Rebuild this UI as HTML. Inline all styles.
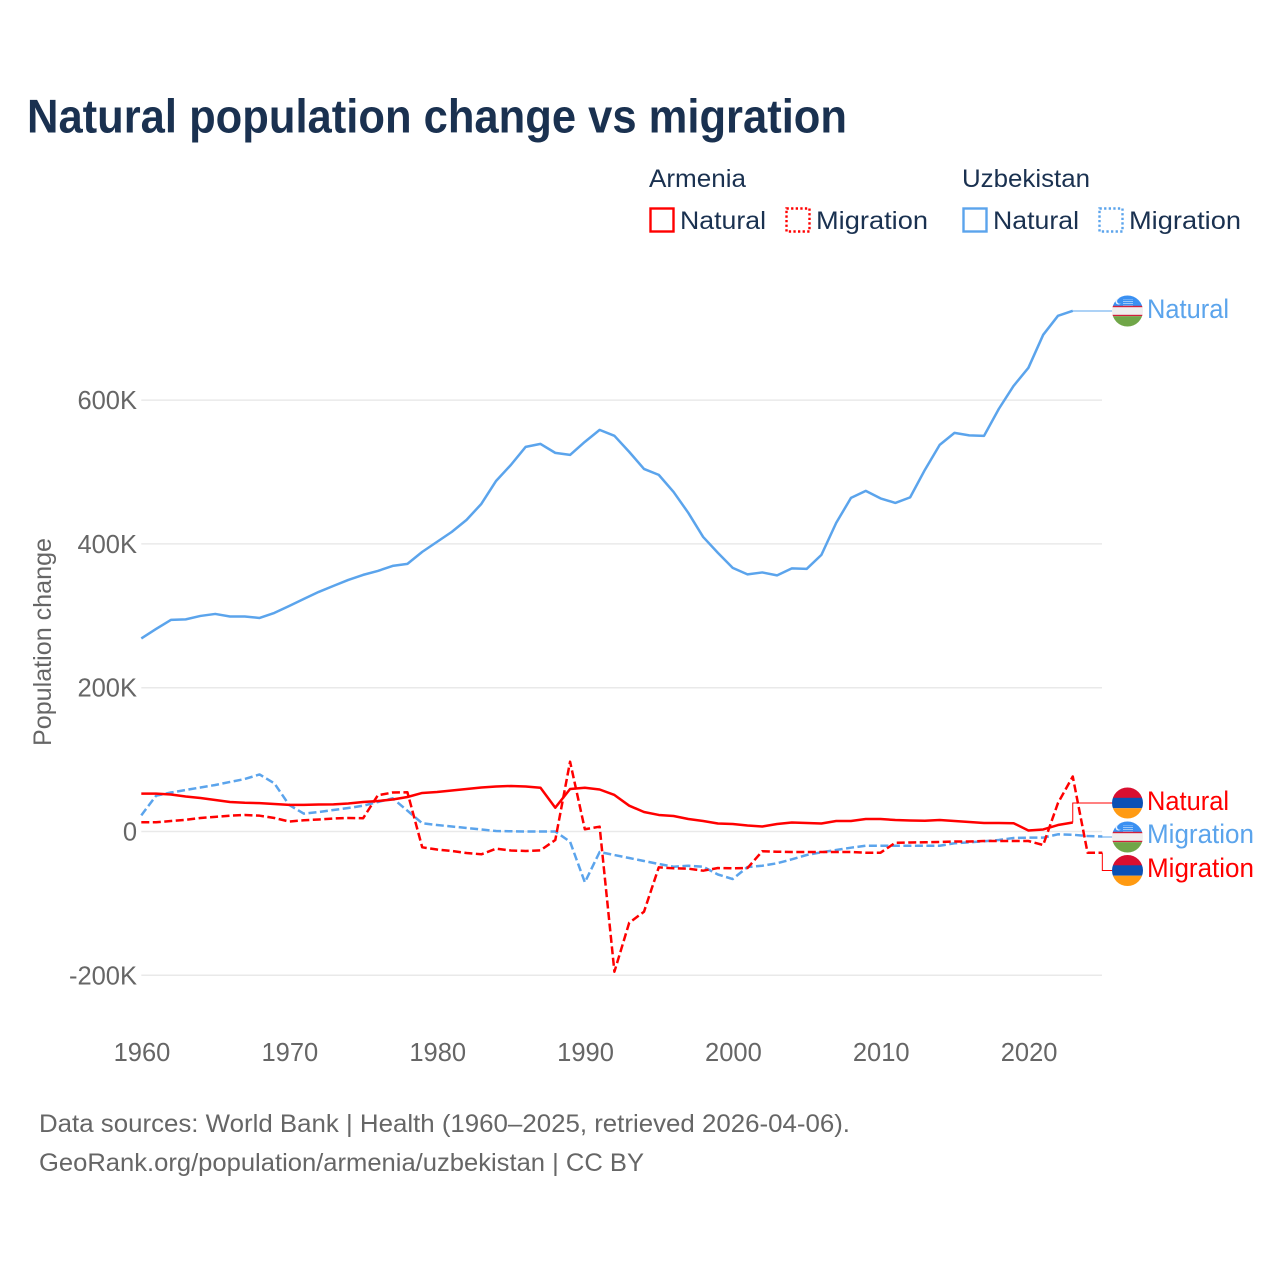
<!DOCTYPE html>
<html lang="en">
<head>
<meta charset="utf-8">
<title>Natural population change vs migration</title>
<style>
html,body{margin:0;padding:0;background:#fff;width:1280px;height:1280px;overflow:hidden}
svg{display:block}
text{font-family:"Liberation Sans",sans-serif}
</style>
</head>
<body>
<svg id="chart" xmlns="http://www.w3.org/2000/svg" width="1280" height="1280" viewBox="0 0 1280 1280">
  <rect width="1280" height="1280" fill="#fff"/>
  <text x="27" y="132.5" font-size="47" font-weight="700" fill="#1a3150" textLength="820" lengthAdjust="spacingAndGlyphs">Natural population change vs migration</text>

  <g font-size="25" fill="#1a3150">
    <text x="649" y="187" textLength="97" lengthAdjust="spacingAndGlyphs">Armenia</text>
    <text x="962" y="187" textLength="128" lengthAdjust="spacingAndGlyphs">Uzbekistan</text>
    <rect x="650.5" y="208.5" width="23" height="23" fill="none" stroke="#ff0000" stroke-width="2.4"/>
    <text x="680" y="229" textLength="86" lengthAdjust="spacingAndGlyphs">Natural</text>
    <rect x="786.5" y="208.5" width="23" height="23" fill="none" stroke="#ff0000" stroke-width="2.4" stroke-dasharray="2.3 2.3"/>
    <text x="816" y="229" textLength="112" lengthAdjust="spacingAndGlyphs">Migration</text>
    <rect x="963.5" y="208.5" width="23" height="23" fill="none" stroke="#5ba4ec" stroke-width="2.4"/>
    <text x="993" y="229" textLength="86" lengthAdjust="spacingAndGlyphs">Natural</text>
    <rect x="1099.5" y="208.5" width="23" height="23" fill="none" stroke="#5ba4ec" stroke-width="2.4" stroke-dasharray="2.3 2.3"/>
    <text x="1129" y="229" textLength="112" lengthAdjust="spacingAndGlyphs">Migration</text>
  </g>

  <g id="grid"></g>
  <g id="yticks"></g>
  <g id="xticks"></g>
  <text transform="translate(51,642) rotate(-90)" text-anchor="middle" font-size="25" fill="#666" textLength="208" lengthAdjust="spacingAndGlyphs">Population change</text>

  <g id="connectors"></g>
  <g id="series"></g>

  <defs>
    <clipPath id="clip-flag"><circle cx="0" cy="0" r="15.5"/></clipPath>
    <pattern id="uz-stars" width="2" height="2" patternUnits="userSpaceOnUse">
      <rect width="1" height="1" fill="#ffffff"/>
    </pattern>
    <g id="flag-am">
      <g clip-path="url(#clip-flag)">
        <rect x="-16" y="-16" width="32" height="11" fill="#d90f30"/>
        <rect x="-16" y="-5.2" width="32" height="10.4" fill="#0a50b4"/>
        <rect x="-16" y="5.2" width="32" height="11" fill="#ff9a12"/>
      </g>
    </g>
    <g id="flag-uz">
      <g clip-path="url(#clip-flag)">
        <rect x="-16" y="-16" width="32" height="11" fill="#3a90f2"/>
        <rect x="-16" y="-5" width="32" height="10" fill="#f0eeee"/>
        <rect x="-16" y="-5.2" width="32" height="1.4" fill="#d0203c"/>
        <rect x="-16" y="3.8" width="32" height="1.4" fill="#d0203c"/>
        <rect x="-16" y="5.2" width="32" height="11" fill="#70a648"/>
        <circle cx="-9" cy="-9.5" r="3" fill="#eaf4ff"/>
        <circle cx="-7.8" cy="-9.8" r="2.6" fill="#3a90f2"/>
        <rect x="-4" y="-11.5" width="9" height="6" fill="url(#uz-stars)"/>
      </g>
    </g>
  </defs>

  <g font-size="27">
    <use href="#flag-uz" x="1127.5" y="311"/>
    <text x="1147" y="318" fill="#5ba4ec" textLength="82" lengthAdjust="spacingAndGlyphs">Natural</text>
    <use href="#flag-am" x="1127.5" y="803"/>
    <text x="1147" y="810" fill="#ff0000" textLength="82" lengthAdjust="spacingAndGlyphs">Natural</text>
    <use href="#flag-uz" x="1127.5" y="837"/>
    <text x="1147" y="843" fill="#5ba4ec" textLength="107" lengthAdjust="spacingAndGlyphs">Migration</text>
    <use href="#flag-am" x="1127.5" y="870.5"/>
    <text x="1147" y="877" fill="#ff0000" textLength="107" lengthAdjust="spacingAndGlyphs">Migration</text>
  </g>

  <g font-size="25" fill="#666">
    <text x="39" y="1132" textLength="811" lengthAdjust="spacingAndGlyphs">Data sources: World Bank | Health (1960–2025, retrieved 2026-04-06).</text>
    <text x="39" y="1171" textLength="605" lengthAdjust="spacingAndGlyphs">GeoRank.org/population/armenia/uzbekistan | CC BY</text>
  </g>
</svg>
<script>
const startYear = 1960;
const yTickValues = [600, 400, 200, 0, -200];
const yTickLabels = ['600K', '400K', '200K', '0', '-200K'];
const xTickYears = [1960, 1970, 1980, 1990, 2000, 2010, 2020];

const uzbekistanNatural = [268.5,281.7,294.3,295,299.8,302.6,299,299,297,304,313.7,323.5,333.2,341.6,349.9,356.9,362.4,369.4,372.2,388.9,402.8,416.7,433.4,455.7,487.7,509.9,535,539.1,526.6,523.8,541.9,558.6,550.3,528,504.3,496,472.3,443.1,409.7,387.5,366.6,357.6,360.3,356.2,365.9,365.2,384.7,429.2,464,473.7,463.3,457,464.7,503,537.7,554.4,551,550.3,587.8,619.8,644.9,690.8,717.2,724.2];
const armeniaNatural = [52.6,52.6,51.5,48.7,46.6,43.8,41,39.9,39.4,38.3,37.1,37.1,37.6,37.8,38.9,41,42.4,44.5,48,53.6,54.9,57,59.1,61.2,62.6,63.3,62.6,60.9,33.1,59.1,60.9,58.4,50.8,35.9,27.1,23,21.6,17.4,14.6,11.1,10.4,8.3,7,10.4,12.5,11.8,11.1,14.6,14.6,17.4,17.4,16,15.3,14.9,16,14.6,13.2,11.8,11.8,11.5,1.4,2.8,9,12.5];
const armeniaMigration = [12.8,12.8,14.6,16.3,18.8,20.4,22,23,22,18.8,13.9,15.6,16.7,18.1,18.8,18.4,50.4,54.2,54.5,-22,-25,-27.1,-29.9,-31.7,-23.9,-26.4,-27.1,-26.2,-11.8,97.1,3.1,6.7,-195,-126.9,-111.6,-49.8,-51.2,-51.7,-54.5,-50.8,-51.2,-50.8,-27.4,-28.1,-28.5,-28.5,-28.5,-28.5,-28.5,-29.5,-29.5,-15.6,-15.3,-15,-14.6,-13.9,-13.9,-13.2,-13.2,-13.2,-13.2,-18.8,39.6,76.5,-29.5,-29.5];
const uzbekistanMigration = [22.5,49.8,54.2,57.7,61.2,64.7,68.9,73,79.3,67,36.9,24.8,27.1,29.9,32.7,35.9,41,46.2,28.9,11.4,9,7,4.9,2.8,0.7,0.3,0,0,0,-14.2,-70.7,-28.5,-32.7,-36.9,-41,-45.2,-49,-47.6,-49,-59.8,-66.1,-49.4,-47.6,-44.2,-38.7,-32.7,-28.9,-25.7,-22.5,-19.8,-19.8,-19.8,-19.8,-19.8,-19.8,-16.4,-15,-13.6,-11.8,-9,-8.6,-8.6,-3.9,-4.5,-6.3,-7];

const NS = 'http://www.w3.org/2000/svg';
function xScale(year) { return 141.3 + (year - 1960) * 14.785; }
function yScale(v) { return 831.5 - v * 0.719; }
function pathFor(values) {
  return values.map(function (v, i) {
    return (i ? 'L' : 'M') + xScale(startYear + i).toFixed(2) + ' ' + yScale(v).toFixed(2);
  }).join(' ');
}

const grid = document.getElementById('grid');
const yticks = document.getElementById('yticks');
yTickValues.forEach(function (v, i) {
  const line = document.createElementNS(NS, 'line');
  
  
  line.setAttribute('x1', 141.3);
  line.setAttribute('x2', 1102);
  line.setAttribute('y1', yScale(v));
  line.setAttribute('y2', yScale(v));
  line.setAttribute('stroke', '#e9e9e9');
  line.setAttribute('stroke-width', '1.5');
  grid.appendChild(line);
  const t = document.createElementNS(NS, 'text');
  
  
  t.setAttribute('x', 137);
  t.setAttribute('y', yScale(v) + 9);
  t.setAttribute('text-anchor', 'end');
  t.setAttribute('font-size', '25.5');
  t.setAttribute('fill', '#666');
  t.textContent = yTickLabels[i];
  yticks.appendChild(t);
});

const xticks = document.getElementById('xticks');
xTickYears.forEach(function (yr) {
  const t = document.createElementNS(NS, 'text');
  
  
  t.setAttribute('x', xScale(yr) + 0.7);
  t.setAttribute('y', 1061);
  t.setAttribute('text-anchor', 'middle');
  t.setAttribute('font-size', '25.5');
  t.setAttribute('fill', '#666');
  t.textContent = String(yr);
  xticks.appendChild(t);
});

const RED = '#ff0000';
const BLUE = '#5ba4ec';

const seriesGroup = document.getElementById('series');
function drawLine(values, color, dashed, name) {
  const p = document.createElementNS(NS, 'path');
  
  
  p.setAttribute('d', pathFor(values));
  p.setAttribute('fill', 'none');
  p.setAttribute('stroke', color);
  p.setAttribute('stroke-width', '2.5');
  p.setAttribute('stroke-linejoin', 'round');
  if (dashed) p.setAttribute('stroke-dasharray', '8 3.5');
  seriesGroup.appendChild(p);
}
drawLine(uzbekistanMigration, BLUE, true, 'line-uzbekistan-migration');
drawLine(armeniaMigration, RED, true, 'line-armenia-migration');
drawLine(uzbekistanNatural, BLUE, false, 'line-uzbekistan-natural');
drawLine(armeniaNatural, RED, false, 'line-armenia-natural');

const connectors = document.getElementById('connectors');
function drawConnector(values, color, labelY, name) {
  const lastIdx = values.length - 1;
  const x0 = xScale(startYear + lastIdx);
  const y0 = yScale(values[lastIdx]);
  const p = document.createElementNS(NS, 'path');
  
  
  p.setAttribute('d', 'M' + x0 + ' ' + y0 + ' V' + labelY + ' H1113');
  p.setAttribute('fill', 'none');
  p.setAttribute('stroke', color);
  p.setAttribute('stroke-width', '1');
  connectors.appendChild(p);
}
drawConnector(uzbekistanNatural, BLUE, 311, 'connector-uzbekistan-natural');
drawConnector(armeniaNatural, RED, 803, 'connector-armenia-natural');
drawConnector(uzbekistanMigration, BLUE, 837, 'connector-uzbekistan-migration');
drawConnector(armeniaMigration, RED, 870.5, 'connector-armenia-migration');
</script>
</body>
</html>
